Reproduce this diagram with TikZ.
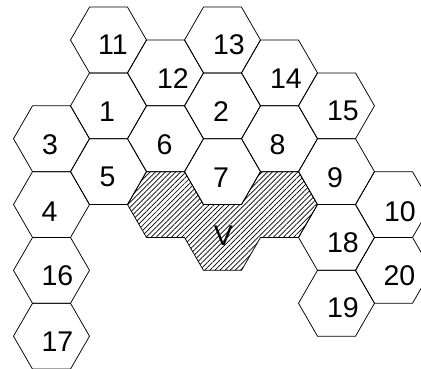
\documentclass[tikz,border=0pt]{standalone}
\usepackage{fontspec}
\setmainfont{Liberation Sans}
\usetikzlibrary{shapes.geometric,patterns.meta,calc}
\begin{document}
\begin{tikzpicture}[x=1pt,y=-1pt,
  hexcell/.style={regular polygon,regular polygon sides=6,minimum size=76pt,inner sep=0pt,outer sep=0pt,draw=black,line width=0.75pt},
  hatchcell/.style={regular polygon,regular polygon sides=6,minimum size=76pt,inner sep=0pt,outer sep=0pt,draw=none,pattern={Lines[angle=45,distance=3.6pt,line width=0.7pt]}},
  lbl/.style={inner sep=0pt,font=\fontsize{28.5}{28.5}\selectfont}]
\useasboundingbox (0,0) rectangle (421,368);
\def\hh{32.909}
% hatched region
\node[hatchcell] (hA) at (165.5,{40+5*\hh}) {};
\node[hatchcell] (hB) at (222.5,{40+6*\hh}) {};
\node[hatchcell] (hC) at (279.5,{40+5*\hh}) {};
\draw[line width=0.75pt,line join=miter]
  ($(hA)+(-38,0)$) -- ($(hA)+(-19,-\hh)$) -- ($(hA)+(19,-\hh)$) -- ($(hA)+(38,0)$)
  -- ($(hC)+(-38,0)$) -- ($(hC)+(-19,-\hh)$) -- ($(hC)+(19,-\hh)$) -- ($(hC)+(38,0)$)
  -- ($(hC)+(19,\hh)$) -- ($(hB)+(38,0)$) -- ($(hB)+(19,\hh)$) -- ($(hB)+(-19,\hh)$)
  -- ($(hB)+(-38,0)$) -- ($(hA)+(-19,\hh)$) -- cycle;
% numbered hexagons
\node[hexcell] (c11) at (108.5,{40+0*\hh}) {};
\node[hexcell] (c13) at (222.5,{40+0*\hh}) {};
\node[hexcell] (c12) at (165.5,{40+1*\hh}) {};
\node[hexcell] (c14) at (279.5,{40+1*\hh}) {};
\node[hexcell] (c1)  at (108.5,{40+2*\hh}) {};
\node[hexcell] (c2)  at (222.5,{40+2*\hh}) {};
\node[hexcell] (c15) at (336.5,{40+2*\hh}) {};
\node[hexcell] (c3)  at (51.5,{40+3*\hh}) {};
\node[hexcell] (c6)  at (165.5,{40+3*\hh}) {};
\node[hexcell] (c8)  at (279.5,{40+3*\hh}) {};
\node[hexcell] (c5)  at (108.5,{40+4*\hh}) {};
\node[hexcell] (c7)  at (222.5,{40+4*\hh}) {};
\node[hexcell] (c9)  at (336.5,{40+4*\hh}) {};
\node[hexcell] (c4)  at (51.5,{40+5*\hh}) {};
\node[hexcell] (c10) at (393.5,{40+5*\hh}) {};
\node[hexcell] (c18) at (336.5,{40+6*\hh}) {};
\node[hexcell] (c16) at (51.5,{40+7*\hh}) {};
\node[hexcell] (c20) at (393.5,{40+7*\hh}) {};
\node[hexcell] (c19) at (336.5,{40+8*\hh}) {};
\node[hexcell] (c17) at (51.5,{40+9*\hh}) {};
% labels
\node[lbl] (t11) at (113,45) {11};
\node[lbl] (t13) at (229,45) {13};
\node[lbl] (t12) at (173,79) {12};
\node[lbl] (t14) at (286,79) {14};
\node[lbl] (t1)  at (107,112) {1};
\node[lbl] (t2)  at (221,112) {2};
\node[lbl] (t15) at (343,111) {15};
\node[lbl] (t3)  at (50,145) {3};
\node[lbl] (t6)  at (164.5,145) {6};
\node[lbl] (t8)  at (277.5,145) {8};
\node[lbl] (t5)  at (107.5,177) {5};
\node[lbl] (t7)  at (221,178) {7};
\node[lbl] (t9)  at (335,178) {9};
\node[lbl] (t4)  at (49.5,212) {4};
\node[lbl] (t10) at (400,212) {10};
\node[lbl] (tV)  at (223.5,236) {V};
\node[lbl] (t18) at (343,242.5) {18};
\node[lbl] (t16) at (57.5,276) {16};
\node[lbl] (t20) at (399.5,276) {20};
\node[lbl] (t19) at (343,308) {19};
\node[lbl] (t17) at (57.5,342) {17};
\end{tikzpicture}
\end{document}
